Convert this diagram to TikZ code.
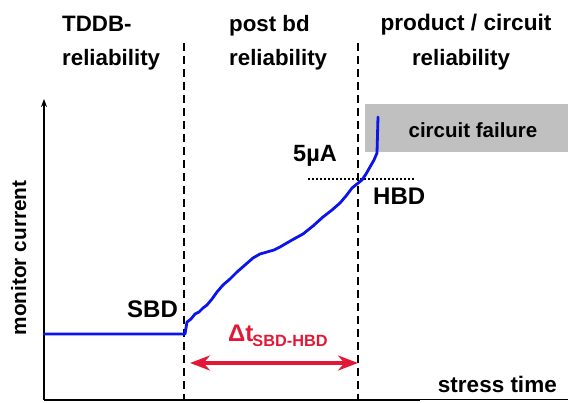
\documentclass[tikz,border=0pt]{standalone}
\usepackage{fontspec}
\setmainfont{Liberation Sans}
\usetikzlibrary{arrows.meta}
\definecolor{curveblue}{RGB}{10,20,235}
\definecolor{arrred}{RGB}{225,25,55}
\definecolor{failgray}{RGB}{192,192,192}
\tikzset{
  lbl/.style={font=\bfseries\fontsize{#1}{#1}\selectfont, inner sep=0pt},
  divider/.style={line width=1.6pt, dash pattern=on 8pt off 5pt},
  axis/.style={line width=1.6pt},
  curve/.style={curveblue, line width=2.8pt, line join=round, line cap=round},
  dtarrow/.style={arrred, line width=4pt, {Stealth[length=20pt,width=15pt]}-{Stealth[length=20pt,width=15pt]}},
}
\begin{document}
\begin{tikzpicture}[x=1pt,y=-1pt]
\useasboundingbox (0,0) rectangle (568,403);
% gray failure region
\fill[failgray] (365,104) rectangle (568,152);
\node[lbl=20.5] (fail) at (473,130) {circuit failure};
% axes
\coordinate (origin) at (44,400);
\coordinate (ytip) at (44,99);
\coordinate (xend) at (568,400);
\draw[axis, -{Stealth[length=8pt,width=6pt]}] (origin) -- (ytip);
\draw[axis] (origin) -- (420,400);
\draw[line width=1pt] (420,400) -- (xend);
% dividers
\coordinate (d1t) at (184,43);
\coordinate (d1b) at (184,400);
\coordinate (d2t) at (358,43);
\coordinate (d2b) at (358,400);
\draw[divider] (d1t) -- (d1b);
\draw[divider] (d2t) -- (d2b);
% titles
\node[lbl=22.3, anchor=base west] (t1a) at (62,32) {TDDB-};
\node[lbl=22.3, anchor=base west] (t1b) at (62,66) {reliability};
\node[lbl=22.3, anchor=base west] (t2a) at (229,32) {post bd};
\node[lbl=22.3, anchor=base west] (t2b) at (229,66) {reliability};
\node[lbl=22.6, anchor=base] (t3a) at (466,31) {product / circuit};
\node[lbl=22.3, anchor=base] (t3b) at (461,66) {reliability};
% axis labels
\node[lbl=20.8, rotate=90, anchor=base] (ylab) at (26,258) {monitor current};
\node[lbl=22.5, anchor=base east] (xlab) at (557,392) {stress time};
% HBD threshold
\coordinate (dl) at (308,179);
\coordinate (dr) at (415,179);
\draw[line width=1.5pt, dash pattern=on 2pt off 2pt] (dl) -- (dr);
\node[lbl=23.5, anchor=base west] (ua) at (293,162) {5µA};
\node[lbl=24, anchor=base west] (hbd) at (373,205) {HBD};
\node[lbl=24, anchor=base west] (sbd) at (127,318) {SBD};
% curve
\draw[curve] (44,334) -- (185,334) -- (186,328) -- (187,322)
  -- (191,319) -- (195,314) -- (199,312) -- (203,308) -- (207,305) -- (212,299)
  -- (217,292) -- (223,285) -- (230,279) -- (237,272) -- (245,265) -- (253,258)
  -- (260,254) -- (267,252) -- (274,250) -- (280,247) -- (292,240) -- (303,234)
  -- (313,226) -- (323,217) -- (332,210) -- (340,203) -- (346,196) -- (352,188)
  -- (357,184) -- (362,180) -- (366,174) -- (370,167) -- (374,160) -- (377,153)
  -- (377.5,135) -- (378,117);
% delta t arrow
\coordinate (al) at (190,363);
\coordinate (ar) at (358,363);
\draw[dtarrow] (al) -- (ar);
\node[arrred, inner sep=0pt, anchor=base west] (dt) at (228,342)
  {\bfseries\fontsize{24}{24}\selectfont Δt\kern-1pt\raisebox{-5pt}{\fontsize{16.3}{16.3}\selectfont SBD-HBD}};
\end{tikzpicture}
\end{document}
